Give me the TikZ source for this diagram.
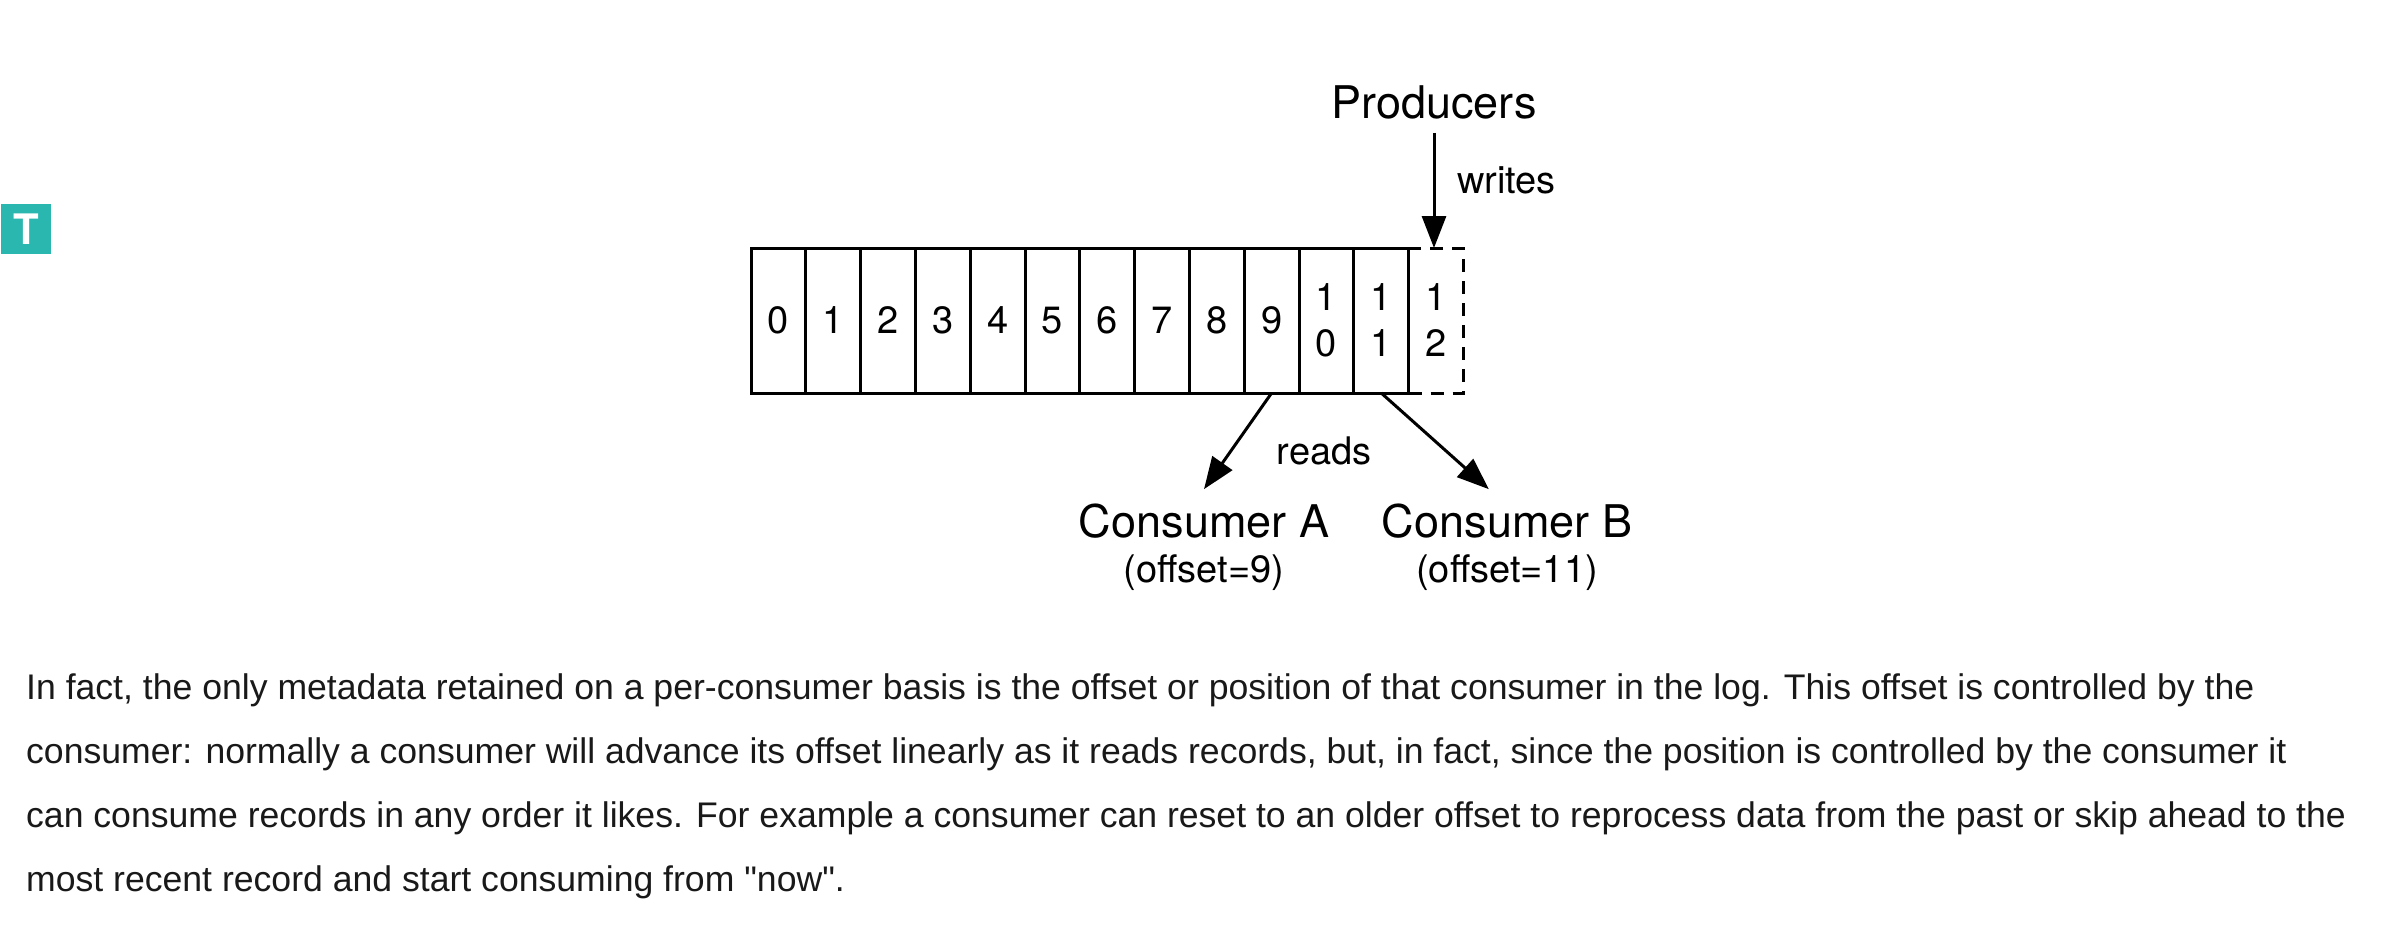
\documentclass[tikz,border=0pt]{standalone}
\usepackage{fontspec}
\setmainfont{TeX Gyre Heros}
\newfontfamily\bodyfont{Liberation Sans}
\usetikzlibrary{positioning,arrows.meta}
\definecolor{badgeteal}{RGB}{42,183,175}
\tikzset{
  cellbox/.style={rectangle, draw, line width=3pt, minimum width=54.8pt, minimum height=145pt,
    inner sep=0pt, outer sep=0pt, align=center, font=\fontsize{38}{46}\selectfont},
  newcell/.style={cellbox, dashed, dash pattern=on 13pt off 9pt},
  biglabel/.style={anchor=base, inner xsep=0pt, inner ysep=14pt, font=\fontsize{45}{45}\selectfont},
  smalllabel/.style={anchor=base, inner sep=0pt, font=\fontsize{38}{38}\selectfont},
  flow/.style={-{Triangle[length=32pt,width=24pt]}, line width=3pt}
}
\begin{document}
\begin{tikzpicture}[x=1pt,y=-1pt]
  \useasboundingbox (0,0) rectangle (2398,927);
  % badge
  \node[rectangle, fill=badgeteal, text=white, minimum size=50pt, inner sep=0pt,
    font=\fontsize{42}{42}\selectfont\bfseries] (badge) at (26,229) {T};
  % log
  \node[cellbox] (cell0) at (778.4,320.5) {0};
  \foreach \i [count=\p from 0] in {1,...,9}
    \node[cellbox, right=0pt of cell\p] (cell\i) {\i};
  \node[cellbox, right=0pt of cell9] (cell10) {1\\0};
  \node[cellbox, right=0pt of cell10] (cell11) {1\\1};
  \node[newcell, right=0pt of cell11] (cell12) {1\\2};
  % labels
  \node[biglabel] (producers) at (1434,118) {Producers};
  \node[smalllabel, anchor=base west] (writes) at (1457,193) {writes};
  \node[smalllabel] (reads) at (1324,464) {reads};
  \node[biglabel] (consumera) at (1204,537) {Consumer A};
  \node[biglabel] (consumerb) at (1507,537) {Consumer B};
  \node[smalllabel] (offseta) at (1204,582) {(offset=9)};
  \node[smalllabel] (offsetb) at (1507,582) {(offset=11)};
  % arrows
  \draw[flow] (producers.south) -- (producers.south |- cell12.north);
  \draw[flow] (cell9.south) -- (consumera.north);
  \draw[flow] (cell11.south) -- (consumerb.120);
  % text under the figure
  \node[anchor=north west, inner sep=0pt, align=left, text=black!90,
    font=\bodyfont\fontsize{35.6}{64}\selectfont] (para) at (26,673) {%
    In fact, the only metadata retained on a per-consumer basis is the offset or position of that consumer in the log. This offset is controlled by the\\
    consumer: normally a consumer will advance its offset linearly as it reads records, but, in fact, since the position is controlled by the consumer it\\
    can consume records in any order it likes. For example a consumer can reset to an older offset to reprocess data from the past or skip ahead to the\\
    most recent record and start consuming from "now".};
\end{tikzpicture}
\end{document}
